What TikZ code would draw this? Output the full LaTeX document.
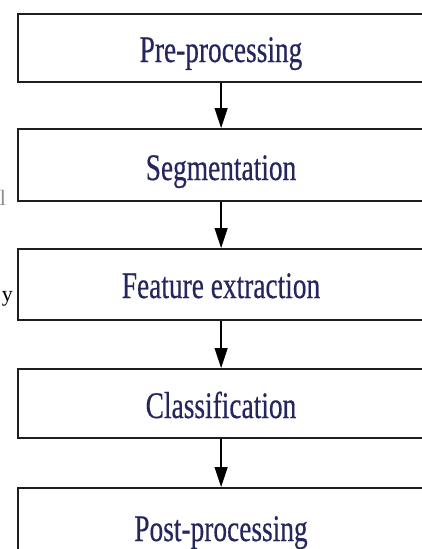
\documentclass[tikz,border=0pt]{standalone}
\usepackage{fontspec}
\setmainfont{Liberation Serif}
\newfontfamily\stagefont[FakeBold=0.5]{Liberation Serif}
\usetikzlibrary{arrows.meta}
\definecolor{labelblue}{HTML}{26265E}
\definecolor{framegray}{HTML}{1E1E1E}
\tikzset{
  stagebox/.style={draw=framegray, line width=2.2pt, rectangle, minimum width=406pt,
    anchor=north west, inner sep=0pt},
  stagelabel/.style={anchor=base, inner sep=0pt, text=labelblue,
    font=\stagefont\fontsize{37.5}{40}\selectfont},
  flow/.style={draw=black, line width=1.3pt, -{Triangle[length=20pt, width=13pt]}},
  stray/.style={inner sep=0pt, font=\fontsize{22}{24}\selectfont}
}
\newcommand{\narrow}[1]{\scalebox{0.73}[1]{#1}}
\begin{document}
\begin{tikzpicture}[x=1pt, y=-1pt]
  \useasboundingbox (0,0) rectangle (422,549);
  \clip (0,0) rectangle (422,549);

  % stage frames
  \node[stagebox, minimum height=68pt] (b1) at (17,13) {};
  \node[stagebox, minimum height=72pt] (b2) at (17,128) {};
  \node[stagebox, minimum height=71pt] (b3) at (17,248) {};
  \node[stagebox, minimum height=69pt] (b4) at (17,368) {};
  \node[stagebox, minimum height=75pt] (b5) at (17,487) {};

  % stage names
  \node[stagelabel] (l1) at (221,62) {\narrow{Pre-processing}};
  \node[stagelabel] (l2) at (221,180) {\narrow{Segmentation}};
  \node[stagelabel] (l3) at (221,298) {\narrow{Feature extraction}};
  \node[stagelabel] (l4) at (221,418) {\narrow{Classification}};
  \node[stagelabel] (l5) at (221,541) {\narrow{Post-processing}};

  % flow between stages
  \draw[flow] (b1.south) -- (b2.north);
  \draw[flow] (b2.south) -- (b3.north);
  \draw[flow] (b3.south) -- (b4.north);
  \draw[flow] (b4.south) -- (b5.north);

  % cut-off letters at the left margin
  \node[stray, text=black!45, anchor=base] (s1) at (3,205) {l};
  \node[stray, anchor=base east] (s2) at (13,301) {y};
\end{tikzpicture}
\end{document}
